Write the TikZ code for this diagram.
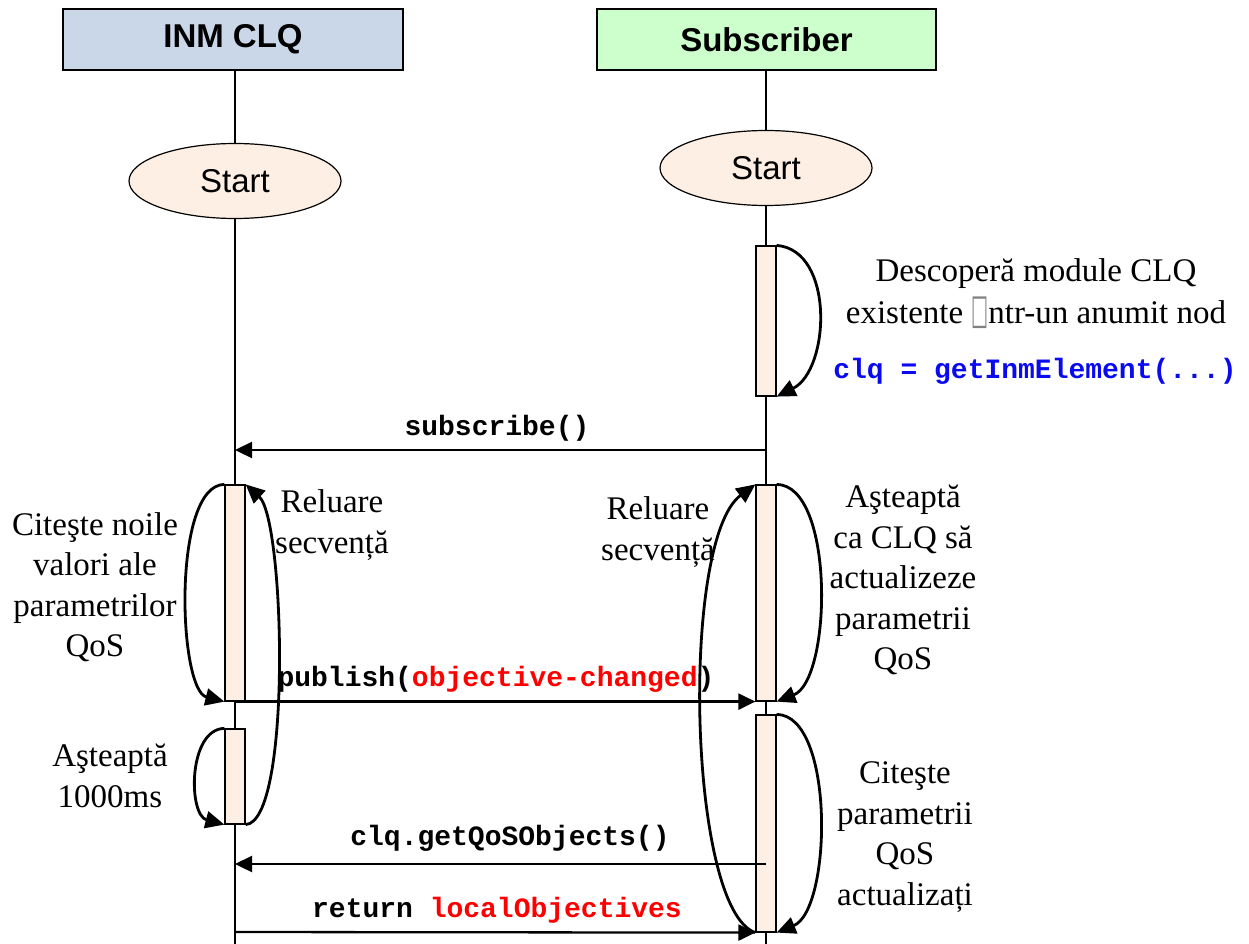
\documentclass[tikz,border=0pt]{standalone}
\usepackage{fontspec}
\usepackage{graphicx}
\setmainfont{Liberation Serif}
\newfontfamily\arialf{Liberation Sans}
\newfontfamily\courf{Liberation Mono}
\newfontfamily\dejavuf{DejaVu Sans}
\usetikzlibrary{shapes.geometric,arrows.meta,backgrounds}
\definecolor{hdrblue}{RGB}{201,215,232}
\definecolor{hdrgreen}{RGB}{204,255,204}
\definecolor{peach}{RGB}{253,239,227}
\definecolor{codeblue}{RGB}{10,10,240}
\definecolor{codered}{RGB}{255,0,0}
\tikzset{
  header/.style={draw, line width=1.5pt, minimum width=340pt, minimum height=61pt, inner sep=0pt,
    font=\arialf\bfseries\fontsize{33}{40}\selectfont},
  startnode/.style={ellipse, draw, line width=1.2pt, fill=peach, minimum width=212pt, minimum height=75pt,
    inner sep=0pt, font=\arialf\fontsize{33}{40}\selectfont},
  actbar/.style={draw, line width=1.2pt, fill=peach, minimum width=20pt, inner sep=0pt},
  lifeline/.style={line width=2pt},
  msg/.style={line width=2.3pt, -{Triangle[length=17pt,width=16pt]}},
  selfloop/.style={line width=2.8pt, -{Triangle[length=19pt,width=17pt]}},
  txt/.style={align=center, inner sep=0pt, font=\fontsize{33}{40.5}\selectfont},
  code/.style={inner sep=0pt, font=\courf\bfseries\fontsize{28}{34}\selectfont},
}
\begin{document}
\begin{tikzpicture}[x=1pt,y=-1pt]
\useasboundingbox (0,0) rectangle (1249,944);

% headers and start nodes
\node[header, fill=hdrblue] (hL) at (233,39.5) {INM CLQ};
\node[header, fill=hdrgreen, minimum width=339pt] (hR) at (766.5,39.5) {Subscriber};
\node[startnode] (sL) at (235,181) {Start};
\node[startnode] (sR) at (766,168) {Start};

% activation bars
\node[actbar, minimum height=150pt] (bR1) at (766,321) {};
\node[actbar, minimum height=216pt] (bL2) at (235,593) {};
\node[actbar, minimum height=216pt] (bR2) at (766,593) {};
\node[actbar, minimum height=95pt] (bL3) at (235,776.5) {};
\node[actbar, minimum height=217pt] (bR3) at (766,823.5) {};

% lifeline ends
\coordinate (endL) at (235,944);
\coordinate (endR) at (766,944);

\begin{pgfonlayer}{background}
\fill[white] (0,0) rectangle (1249,944);
\draw[lifeline] (hL.south -| sL.north) -- (sL.north);
\draw[lifeline] (sL.south) -- (endL);
\draw[lifeline] (hR.south -| sR.north) -- (sR.north);
\draw[lifeline] (sR.south) -- (endR);
\end{pgfonlayer}

% messages
\coordinate (subR) at (766,450);
\coordinate (subL) at (235,450);
\draw[msg] (subR) -- (subL);
\node[code] (lsub) at (497,428) {subscribe()};

\draw[msg] (bL2.south) -- (bR2.south west);
\node[code] (lpub) at (496,679) {publish(\textcolor{codered}{objective-changed})};

\coordinate (gqR) at (766,864);
\coordinate (gqL) at (235,864);
\draw[msg] (gqR) -- (gqL);
\node[code] (lgq) at (510,838) {clq.getQoSObjects()};

\coordinate (retL) at (235,932);
\draw[msg] (retL) -- (bR3.south west);
\node[code] (lret) at (497,910) {return \textcolor{codered}{localObjectives}};

% self loops
\draw[selfloop] (bR1.north east) .. controls (835,250) and (830,370) .. (bR1.south east);
\draw[selfloop] (bL2.north west) .. controls (172,485) and (178,690) .. (bL2.south west);
\draw[selfloop] (bL3.south east) .. controls (292,822) and (285,520) .. (bL2.north east);
\draw[selfloop] (bL3.north west) .. controls (188,729) and (188,815) .. (bL3.south west);
\draw[selfloop] (bR3.south west) .. controls (688,910) and (680,540) .. (bR2.north west);
\draw[selfloop] (bR2.north east) .. controls (835,485) and (832,680) .. (bR2.south east);
\draw[selfloop] (bR3.north east) .. controls (835,715) and (832,910) .. (bR3.south east);

% texts
\node[txt, font=\fontsize{33}{42}\selectfont] (tdesc) at (1036,294)
  {Descoperă module CLQ\\existente \textcolor{gray}{\scalebox{0.5}[1.15]{\dejavuf\fontsize{36}{36}\selectfont □}}ntr-un anumit nod};
\node[code, text=codeblue] (tget) at (1035,371) {clq = getInmElement(...)};
\node[txt] (tcit1) at (95,587) {Citeşte noile\\valori ale\\parametrilor\\QoS};
\node[txt] (trelL) at (332,525) {Reluare\\secvență};
\node[txt] (trelR) at (658,532) {Reluare\\secvență};
\node[txt] (tast1) at (903,580) {Aşteaptă\\ca CLQ să\\actualizeze\\parametrii\\QoS};
\node[txt] (tast2) at (110,776) {Aşteaptă\\1000ms};
\node[txt] (tcit2) at (905,837) {Citeşte\\parametrii\\QoS\\actualizați};
\end{tikzpicture}
\end{document}
